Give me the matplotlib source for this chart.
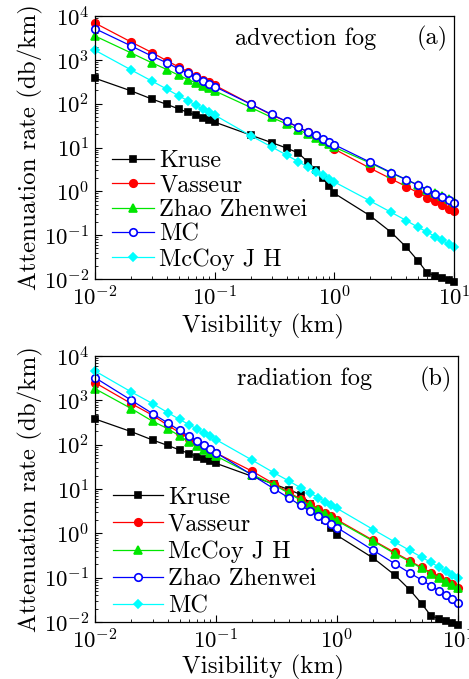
import matplotlib
matplotlib.use("Agg")
import matplotlib.pyplot as plt
from matplotlib.ticker import LogLocator, NullFormatter

plt.rcParams['font.family'] = 'serif'
plt.rcParams['font.serif'] = ['cmr10']
plt.rcParams['mathtext.fontset'] = 'cm'
plt.rcParams['axes.formatter.use_mathtext'] = True
plt.rcParams['axes.unicode_minus'] = True

# visibility (km)
vis = [0.01, 0.02, 0.03, 0.04, 0.05, 0.06, 0.07, 0.08, 0.09,
       0.1, 0.2, 0.3, 0.4, 0.5, 0.6, 0.7, 0.8, 0.9,
       1, 2, 3, 4, 5, 6, 7, 8, 9, 10]

# (a) advection fog, attenuation rate (db/km)
kruse = [380, 196, 127, 96, 76, 63, 54, 47.8, 43,
         38, 19.2, 12.9, 9.7, 7.5, 4.7, 3.1, 2.0, 1.33,
         0.90, 0.275, 0.115, 0.053, 0.026, 0.0136, 0.0119, 0.0105, 0.0095, 0.0084]
vasseur_a = [6900, 2560, 1460, 946, 692, 531, 423, 355, 309,
             264, 98, 55, 39, 29, 22.5, 18.5, 15.2, 13,
             9.2, 3.35, 1.91, 1.28, 0.93, 0.72, 0.59, 0.48, 0.40, 0.35]
zhao_a = [3500, 1440, 851, 600, 446, 355, 298, 255, 226,
          196, 82, 48.6, 34.2, 25.6, 20, 16.4, 13.8, 12,
          10.2, 4.4, 2.6, 1.83, 1.40, 1.10, 0.91, 0.78, 0.67, 0.58]
mc_a = [5150, 2080, 1210, 851, 622, 489, 398, 331, 288,
        246, 97.7, 56.8, 39.3, 29.2, 22.9, 19, 15.9, 13.5,
        11.6, 4.6, 2.67, 1.86, 1.38, 1.08, 0.89, 0.76, 0.64, 0.55]
mccoy_a = [1655, 590, 326, 214, 151, 116, 91, 75, 64,
           55, 18.6, 10.3, 6.7, 4.75, 3.6, 2.8, 2.32, 1.92,
           1.64, 0.60, 0.33, 0.215, 0.152, 0.117, 0.092, 0.076, 0.063, 0.053]

# (b) radiation fog
vasseur_b = [2500, 841, 459, 273, 187, 136, 111, 91, 76,
             65, 25, 13.2, 8.4, 5.9, 4.5, 3.55, 2.9, 2.4,
             2.03, 0.69, 0.37, 0.24, 0.17, 0.13, 0.103, 0.084, 0.071, 0.060]
mccoy_b = [1830, 649, 336, 229, 157, 115, 93, 77, 66,
           55.5, 21, 12.5, 8.0, 5.6, 4.3, 3.4, 2.75, 2.28,
           1.92, 0.66, 0.35, 0.23, 0.163, 0.124, 0.098, 0.080, 0.067, 0.057]
zhao_b = [3245, 1000, 500, 309, 210, 154, 121, 96.6, 79.8,
          66, 20.4, 10.2, 6.3, 4.3, 3.2, 2.46, 1.96, 1.62,
          1.35, 0.41, 0.207, 0.127, 0.089, 0.065, 0.050, 0.040, 0.033, 0.0275]
mc_b = [4590, 1540, 841, 527, 372, 282, 222, 183, 155,
        130, 44.4, 23.4, 15.2, 10.7, 8.1, 6.4, 5.2, 4.36,
        3.66, 1.21, 0.64, 0.41, 0.29, 0.22, 0.171, 0.139, 0.117, 0.100]

green = '#00e600'

fig = plt.figure(figsize=(4.69, 6.79), dpi=100)
ax1 = fig.add_axes([95/469, 1-279/679, 359/469, 263/679])
ax2 = fig.add_axes([95/469, 1-622/679, 363/469, 266/679])


def series(ax, y, label, color, marker, mfc, msize=5.4):
    ax.plot(vis, y, color=color, marker=marker, mfc=mfc, mec=color, ms=msize,
            lw=0.9, mew=1.2, label=label, clip_on=False)


series(ax1, kruse, 'Kruse', 'black', 's', 'black', 4.8)
series(ax1, vasseur_a, 'Vasseur', 'red', 'o', 'red')
series(ax1, zhao_a, 'Zhao Zhenwei', green, '^', green)
series(ax1, mc_a, 'MC', 'blue', 'o', 'white')
series(ax1, mccoy_a, 'McCoy J H', 'cyan', 'D', 'cyan', 4.5)

series(ax2, kruse, 'Kruse', 'black', 's', 'black', 4.8)
series(ax2, vasseur_b, 'Vasseur', 'red', 'o', 'red')
series(ax2, mccoy_b, 'McCoy J H', green, '^', green)
series(ax2, zhao_b, 'Zhao Zhenwei', 'blue', 'o', 'white')
series(ax2, mc_b, 'MC', 'cyan', 'D', 'cyan', 4.5)

panels = [(ax1, 'advection fog', '(a)', 0.047, 0.49, 1.75, 0.1, 0.469, -0.133),
          (ax2, 'radiation fog', '(b)', 0.05, 0.508, 2.05, 0.2, 0.464, -0.122)]
for ax, title, tag, lx, ly, hl, ls, xl, yl in panels:
    ax.set_xscale('log')
    ax.set_yscale('log')
    ax.set_xlim(1e-2, 1e1)
    ax.set_ylim(1e-2, 1e4)
    ax.xaxis.set_major_locator(LogLocator(base=10, numticks=10))
    ax.yaxis.set_major_locator(LogLocator(base=10, numticks=10))
    ax.xaxis.set_minor_locator(LogLocator(base=10, subs=range(2, 10), numticks=20))
    ax.yaxis.set_minor_locator(LogLocator(base=10, subs=range(2, 10), numticks=20))
    ax.xaxis.set_minor_formatter(NullFormatter())
    ax.yaxis.set_minor_formatter(NullFormatter())
    ax.tick_params(which='both', direction='in', top=False, right=False, labelsize=16.5)
    ax.tick_params(which='major', length=5, width=0.8, pad=4)
    ax.tick_params(which='minor', length=2.5, width=0.6)
    for s in ax.spines.values():
        s.set_linewidth(0.9)
    ax.set_xlabel('Visibility (km)', fontsize=18, labelpad=0)
    ax.xaxis.set_label_coords(xl, yl)
    ax.set_ylabel('Attenuation rate (db/km)', fontsize=18, labelpad=1)
    ax.text(0.39, 0.913, title, transform=ax.transAxes, fontsize=17.5, va='center')
    ax.text(0.895, 0.913, tag, transform=ax.transAxes, fontsize=17.5, va='center')
    ax.legend(loc='upper left', bbox_to_anchor=(lx, ly), frameon=False,
              fontsize=17.5, handlelength=hl, handletextpad=0.2, labelspacing=ls,
              borderpad=0, borderaxespad=0)

fig.savefig('out.png', dpi=100)
